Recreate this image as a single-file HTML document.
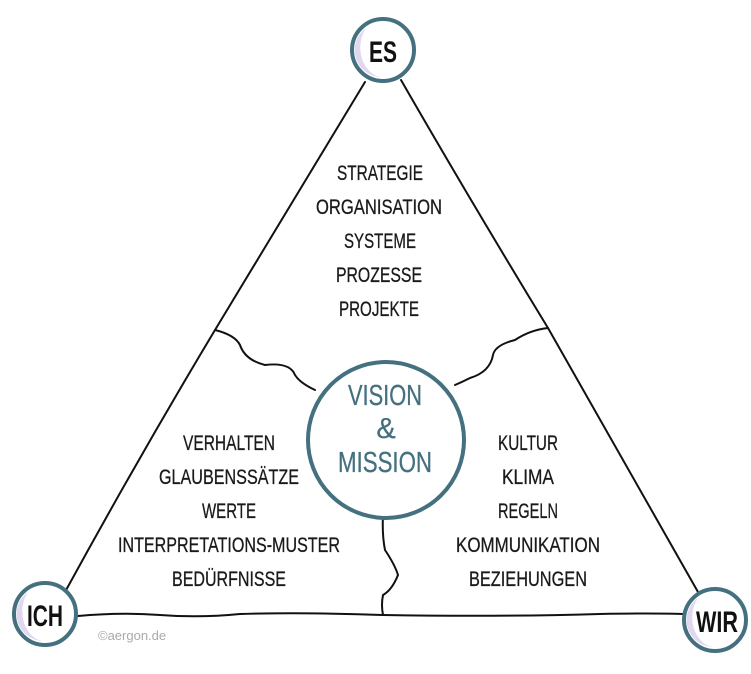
<!DOCTYPE html>
<html><head><meta charset="utf-8"><style>
html,body{margin:0;padding:0;background:#fff;}
svg{display:block}
text{font-family:"Liberation Sans",sans-serif;}
.t{font-size:21px;fill:#1a1a1a;text-anchor:middle;stroke:#1a1a1a;stroke-width:0.3}
.c{font-size:30px;fill:#111;text-anchor:middle;font-weight:bold}
.v{font-size:29px;fill:#44707f;text-anchor:middle;stroke:#44707f;stroke-width:0.3}
</style></head><body>
<svg width="751" height="674" viewBox="0 0 751 674" xmlns="http://www.w3.org/2000/svg">
<g fill="none" stroke="#111" stroke-width="2" stroke-linecap="round">
<path d="M365 82 Q300 190 215 330 Q140 455 65 592"/>
<path d="M401 80 Q470 200 548 328 Q620 455 698 592"/>
<path d="M78 616 Q120 612 160 615 Q200 618 240 614 Q300 612 383 615 Q500 617 600 614 Q650 613 683 614"/>
<path d="M215 330 Q235 335 240 345 Q245 360 265 365 Q290 362 295 375 Q300 383 315 390"/>
<path d="M548 328 Q530 330 515 340 Q495 345 493 355 Q490 372 470 378 Q462 382 455 385"/>
<path d="M383 515 Q382 535 385 550 Q395 565 398 575 Q392 590 383 595 Q381 605 383 615"/>
</g>
<g stroke="#44707f" stroke-width="4" fill="#fff">
<circle cx="383" cy="50" r="31"/>
<circle cx="45" cy="614" r="31"/>
<circle cx="715" cy="620" r="31"/>
<circle cx="386" cy="440" r="78"/>
</g>
<g fill="#e0d8ee">
<path d="M366 28 A27 27 0 0 0 380 77 A24 30 0 0 1 366 28Z"/>
<path d="M28 592 A27 27 0 0 0 42 641 A24 30 0 0 1 28 592Z"/>
<path d="M698 598 A27 27 0 0 0 712 647 A24 30 0 0 1 698 598Z"/>
</g>
<text class="c" x="383" y="62" textLength="28" lengthAdjust="spacingAndGlyphs">ES</text>
<text class="c" x="45" y="626" textLength="36" lengthAdjust="spacingAndGlyphs">ICH</text>
<text class="c" x="717" y="632" textLength="42" lengthAdjust="spacingAndGlyphs">WIR</text>
<text class="t" x="380" y="180" textLength="86" lengthAdjust="spacingAndGlyphs">STRATEGIE</text>
<text class="t" x="379" y="214" textLength="126" lengthAdjust="spacingAndGlyphs">ORGANISATION</text>
<text class="t" x="380" y="248" textLength="72" lengthAdjust="spacingAndGlyphs">SYSTEME</text>
<text class="t" x="379" y="282" textLength="86" lengthAdjust="spacingAndGlyphs">PROZESSE</text>
<text class="t" x="379" y="316" textLength="80" lengthAdjust="spacingAndGlyphs">PROJEKTE</text>
<text class="t" x="229" y="450" textLength="92" lengthAdjust="spacingAndGlyphs">VERHALTEN</text>
<text class="t" x="229" y="484" textLength="140" lengthAdjust="spacingAndGlyphs">GLAUBENSSÄTZE</text>
<text class="t" x="229" y="518" textLength="54" lengthAdjust="spacingAndGlyphs">WERTE</text>
<text class="t" x="229" y="552" textLength="222" lengthAdjust="spacingAndGlyphs">INTERPRETATIONS-MUSTER</text>
<text class="t" x="229" y="586" textLength="114" lengthAdjust="spacingAndGlyphs">BEDÜRFNISSE</text>
<text class="t" x="528" y="450" textLength="60" lengthAdjust="spacingAndGlyphs">KULTUR</text>
<text class="t" x="528" y="484" textLength="52" lengthAdjust="spacingAndGlyphs">KLIMA</text>
<text class="t" x="528" y="518" textLength="60" lengthAdjust="spacingAndGlyphs">REGELN</text>
<text class="t" x="528" y="552" textLength="144" lengthAdjust="spacingAndGlyphs">KOMMUNIKATION</text>
<text class="t" x="528" y="586" textLength="118" lengthAdjust="spacingAndGlyphs">BEZIEHUNGEN</text>
<text class="v" x="385" y="405" textLength="74" lengthAdjust="spacingAndGlyphs">VISION</text>
<text class="v" x="386" y="438" font-size="22">&amp;</text>
<text class="v" x="385" y="472" textLength="94" lengthAdjust="spacingAndGlyphs">MISSION</text>
<text x="98" y="640" font-size="13" fill="#aaa">©aergon.de</text>
</svg>
</body></html>
